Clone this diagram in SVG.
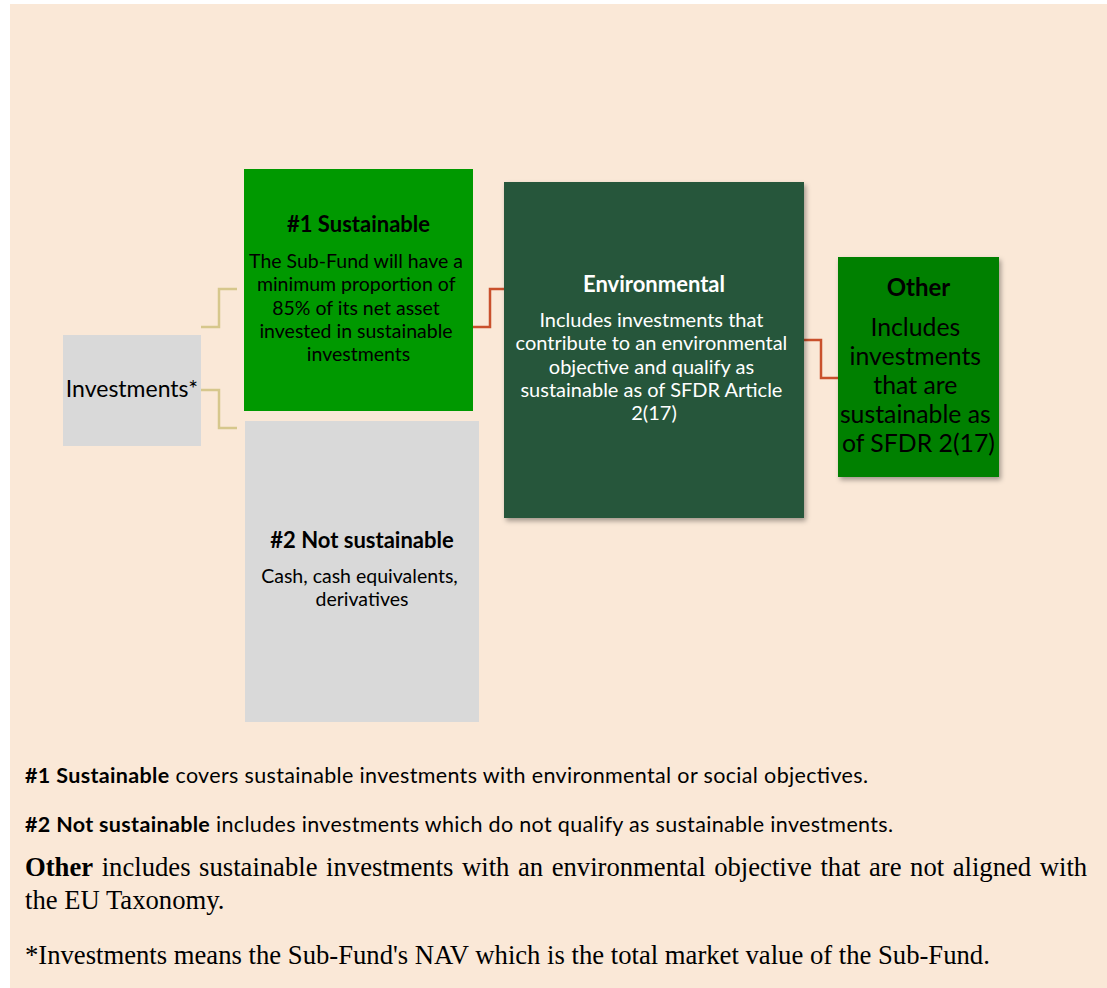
<svg xmlns="http://www.w3.org/2000/svg" width="1107" height="988" viewBox="0 0 1107 988">
<defs>
<filter id="sh" x="-10%" y="-10%" width="120%" height="120%">
<feDropShadow dx="2" dy="3" stdDeviation="2.5" flood-color="#000" flood-opacity="0.35"/>
</filter>
<style>
.cal{font-family:Lato,"Open Sans",sans-serif;}
.b{font-weight:bold;}
.c{text-anchor:middle;}
.tan{fill:none;stroke:#d6c78c;stroke-width:2.5;}
.red{fill:none;stroke:#c9502c;stroke-width:2.5;}
.ser{font-family:"Liberation Serif",serif;font-size:26.67px;fill:#000;}
</style>
</defs>
<rect x="0" y="0" width="1107" height="988" fill="#ffffff"/>
<rect x="10" y="4" width="1097" height="984" fill="#fae8d7"/>

<g id="connectors">
<polyline class="tan" points="201,327 219,327 219,289 237,289"/>
<polyline class="tan" points="201,390 219,390 219,428 237,428"/>
<polyline class="red" points="473,327 490,327 490,289 504,289"/>
<polyline class="red" points="804,340 821,340 821,378 838,378"/>
</g>

<g id="investments">
<rect x="63" y="335" width="138" height="111" fill="#d9d9d9"/>
<text class="cal c" x="132" y="397" font-size="23" fill="#000">Investments*</text>
</g>

<g id="sustainable">
<rect x="244" y="169" width="229" height="242" fill="#009900"/>
<text class="cal b c" x="358.5" y="232" font-size="22" fill="#000">#1 Sustainable</text>
<text class="cal c" font-size="19.5" fill="#000">
<tspan x="358.5" y="268">The Sub-Fund will have a</tspan>
<tspan x="358.5" y="291">minimum proportion of</tspan>
<tspan x="358.5" y="315">85% of its net asset</tspan>
<tspan x="358.5" y="338">invested in sustainable</tspan>
<tspan x="358.5" y="361">investments</tspan>
</text>
</g>

<g id="not-sustainable">
<rect x="245" y="421" width="234" height="301" fill="#d9d9d9"/>
<text class="cal b c" x="362" y="548" font-size="22" fill="#000">#2 Not sustainable</text>
<text class="cal c" font-size="19.5" fill="#000">
<tspan x="362" y="583">Cash, cash equivalents,</tspan>
<tspan x="362" y="606">derivatives</tspan>
</text>
</g>

<g id="environmental">
<rect x="504" y="182" width="300" height="336" fill="#25573b" filter="url(#sh)"/>
<text class="cal b c" x="654" y="292" font-size="22" fill="#ffffff">Environmental</text>
<text class="cal c" font-size="20" fill="#ffffff">
<tspan x="654" y="327">Includes investments that</tspan>
<tspan x="654" y="350">contribute to an environmental</tspan>
<tspan x="654" y="374">objective and qualify as</tspan>
<tspan x="654" y="397">sustainable as of SFDR Article</tspan>
<tspan x="654" y="420">2(17)</tspan>
</text>
</g>

<g id="other">
<rect x="838" y="257" width="161" height="220" fill="#008000" filter="url(#sh)"/>
<text class="cal b c" x="918.5" y="296" font-size="24" fill="#000">Other</text>
<text class="cal c" font-size="24.8" fill="#000">
<tspan x="918.5" y="336">Includes</tspan>
<tspan x="918.5" y="365">investments</tspan>
<tspan x="918.5" y="394">that are</tspan>
<tspan x="918.5" y="423">sustainable as</tspan>
<tspan x="918.5" y="452">of SFDR 2(17)</tspan>
</text>
</g>

<g id="footer">
<text class="cal" x="25" y="783" font-size="21.5" fill="#000" textLength="843" lengthAdjust="spacing"><tspan class="b">#1 Sustainable</tspan> covers sustainable investments with environmental or social objectives.</text>
<text class="cal" x="25" y="832" font-size="21.5" fill="#000" textLength="868" lengthAdjust="spacing"><tspan class="b">#2 Not sustainable</tspan> includes investments which do not qualify as sustainable investments.</text>
<text class="ser" x="25" y="876" word-spacing="1.9"><tspan font-weight="bold">Other</tspan> includes sustainable investments with an environmental objective that are not aligned with</text>
<text class="ser" x="25" y="909">the EU Taxonomy.</text>
<text class="ser" x="25" y="964">*Investments means the Sub-Fund's NAV which is the total market value of the Sub-Fund.</text>
</g>
</svg>
